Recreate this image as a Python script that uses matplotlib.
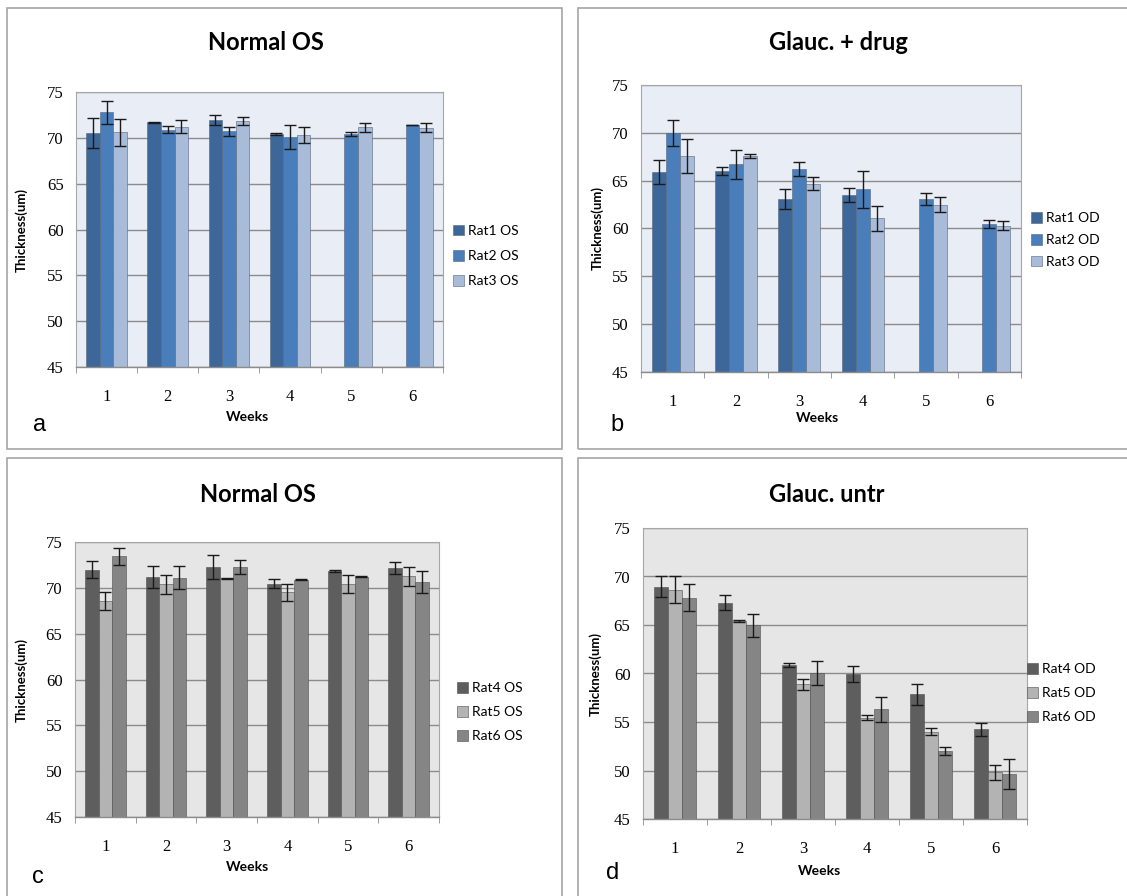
import numpy as np
import matplotlib
matplotlib.use("Agg")
import matplotlib.pyplot as plt
from matplotlib.patches import Rectangle

nan = np.nan

# Retinal thickness per week (mean and error), one list per rat
weeks = ["1", "2", "3", "4", "5", "6"]

a_labels = ["Rat1 OS", "Rat2 OS", "Rat3 OS"]
a_rat1 = [70.5, 71.7, 71.9, 70.4, nan, nan]
a_rat2 = [72.8, 70.9, 70.7, 70.1, 70.45, 71.4]
a_rat3 = [70.6, 71.2, 71.8, 70.3, 71.15, 71.1]
a_rat1_err = [1.65, 0.03, 0.55, 0.1, nan, nan]
a_rat2_err = [1.25, 0.4, 0.5, 1.35, 0.2, 0.03]
a_rat3_err = [1.5, 0.7, 0.45, 0.9, 0.5, 0.47]

b_labels = ["Rat1 OD", "Rat2 OD", "Rat3 OD"]
b_rat1 = [65.9, 66.0, 63.1, 63.5, nan, nan]
b_rat2 = [70.0, 66.7, 66.2, 64.1, 63.1, 60.5]
b_rat3 = [67.6, 67.6, 64.7, 61.05, 62.5, 60.3]
b_rat1_err = [1.3, 0.45, 1.08, 0.73, nan, nan]
b_rat2_err = [1.36, 1.5, 0.73, 1.95, 0.6, 0.4]
b_rat3_err = [1.8, 0.2, 0.66, 1.3, 0.75, 0.45]

c_labels = ["Rat4 OS", "Rat5 OS", "Rat6 OS"]
c_rat4 = [72.0, 71.2, 72.3, 70.45, 71.8, 72.2]
c_rat5 = [68.6, 70.4, 71.05, 69.5, 70.4, 71.25]
c_rat6 = [73.45, 71.1, 72.3, 70.9, 71.2, 70.65]
c_rat4_err = [0.95, 1.2, 1.3, 0.5, 0.1, 0.65]
c_rat5_err = [1.0, 1.05, 0.05, 0.9, 1.0, 1.04]
c_rat6_err = [0.95, 1.25, 0.77, 0.05, 0.05, 1.24]

d_labels = ["Rat4 OD", "Rat5 OD", "Rat6 OD"]
d_rat4 = [68.95, 67.3, 60.85, 59.95, 57.85, 54.25]
d_rat5 = [68.65, 65.4, 58.9, 55.45, 54.0, 49.8]
d_rat6 = [67.8, 64.95, 60.05, 56.3, 52.0, 49.65]
d_rat4_err = [1.1, 0.75, 0.22, 0.8, 1.1, 0.69]
d_rat5_err = [1.4, 0.1, 0.55, 0.27, 0.33, 0.8]
d_rat6_err = [1.4, 1.17, 1.22, 1.27, 0.38, 1.55]

blues = ["#3d6699", "#4a7ebb", "#a8bbd8"]
greys = ["#5e5e5e", "#b3b3b3", "#858585"]

W, H = 1127, 896
fig = plt.figure(figsize=(W / 100, H / 100), dpi=100)
fig.patch.set_facecolor("white")


def fx(x):
    return x / W


def fy(y):
    return 1 - y / H


def frame(x0, y0, x1, y1):
    fig.add_artist(Rectangle((fx(x0), fy(y1)), fx(x1 - x0), (y1 - y0) / H,
                             transform=fig.transFigure, fill=False,
                             edgecolor="#a6a6a6", linewidth=1.2))


def panel(box, series, errs, labels, colors, bg, title, title_xy,
          ylab_x, weeks_xy, letter, letter_xy, leg_xy, leg_space):
    x0, y0, x1, y1 = box
    ax = fig.add_axes([fx(x0), fy(y1), fx(x1 - x0), (y1 - y0) / H])
    ax.set_facecolor(bg)
    x = np.arange(len(weeks))
    w = 1 / 4.5
    for i, (vals, err) in enumerate(zip(series, errs)):
        pos = x + (i - 1) * w
        ax.bar(pos, np.array(vals) - 45, w, bottom=45, color=colors[i],
               edgecolor="#55657a" if bg != "#e6e6e6" else "#4d4d4d",
               linewidth=0.4, label=labels[i], zorder=2)
        ax.errorbar(pos, vals, yerr=err, fmt="none", ecolor="#1a1a1a",
                    elinewidth=1.0, capsize=4, capthick=1.0, zorder=3)
    ax.set_xlim(-0.5, len(weeks) - 0.5)
    ax.set_ylim(45, 75)
    ax.set_yticks(range(45, 76, 5))
    ax.yaxis.grid(True, color="#8c8c8c", linewidth=1.0, zorder=1)
    ax.set_axisbelow(True)
    ax.set_xticks(x)
    ax.set_xticklabels(weeks)
    ax.set_xticks(np.arange(-0.5, len(weeks)), minor=True)
    ax.tick_params(axis="x", which="major", length=0, pad=16)
    ax.tick_params(axis="x", which="minor", length=4, color="#8c8c8c")
    ax.tick_params(axis="y", length=0, pad=9)
    for lab in ax.get_xticklabels() + ax.get_yticklabels():
        lab.set_fontfamily("Liberation Serif")
        lab.set_fontsize(12)
    for side in ["top", "right", "left"]:
        ax.spines[side].set_color("#a6a6a6")
        ax.spines[side].set_linewidth(0.8)
    ax.spines["bottom"].set_color("#8c8c8c")
    ax.spines["bottom"].set_linewidth(1.0)

    fig.text(fx(title_xy[0]), fy(title_xy[1]), title, ha="center",
             va="center", fontsize=17, fontweight="bold", family="Lato")
    fig.text(fx(ylab_x), fy((y0 + y1) / 2), "Thickness(um)", rotation=90,
             ha="center", va="center", fontsize=9.5, fontweight="bold",
             family="Lato")
    fig.text(fx(weeks_xy[0]), fy(weeks_xy[1]), "Weeks", ha="center",
             va="center", fontsize=10, fontweight="bold", family="Lato")
    fig.text(fx(letter_xy[0]), fy(letter_xy[1]), letter, ha="center",
             va="center", fontsize=17, family="Liberation Sans")
    ax.legend(loc="center left", bbox_to_anchor=(fx(leg_xy[0]), fy(leg_xy[1])),
              bbox_transform=fig.transFigure, frameon=False,
              prop={"family": "Lato", "size": 10}, handlelength=0.8,
              handleheight=0.8, handletextpad=0.3, labelspacing=leg_space,
              borderpad=0)
    return ax


# panel outlines
frame(7, 8, 562, 449)
frame(578, 8, 1140, 449)
frame(7, 458, 562, 910)
frame(578, 458, 1140, 910)

panel((76, 92, 443, 367), [a_rat1, a_rat2, a_rat3],
      [a_rat1_err, a_rat2_err, a_rat3_err], a_labels, blues, "#e9edf5",
      "Normal OS", (266, 42), 21, (247, 417), "a", (40, 425), (446, 256), 0.95)
panel((641, 85, 1021, 372), [b_rat1, b_rat2, b_rat3],
      [b_rat1_err, b_rat2_err, b_rat3_err], b_labels, blues, "#e9edf5",
      "Glauc. + drug", (838, 42), 597, (817, 418), "b", (617, 425),
      (1024, 240), 0.7)
panel((75, 542, 439, 817), [c_rat4, c_rat5, c_rat6],
      [c_rat4_err, c_rat5_err, c_rat6_err], c_labels, greys, "#e6e6e6",
      "Normal OS", (258, 495), 21, (247, 867), "c", (38, 877), (450, 712), 0.85)
panel((643, 528, 1027, 819), [d_rat4, d_rat5, d_rat6],
      [d_rat4_err, d_rat5_err, d_rat6_err], d_labels, greys, "#e6e6e6",
      "Glauc. untr", (827, 495), 595, (819, 871), "d", (613, 873),
      (1020, 693), 0.85)

fig.savefig("out.png", dpi=100, facecolor="white")
